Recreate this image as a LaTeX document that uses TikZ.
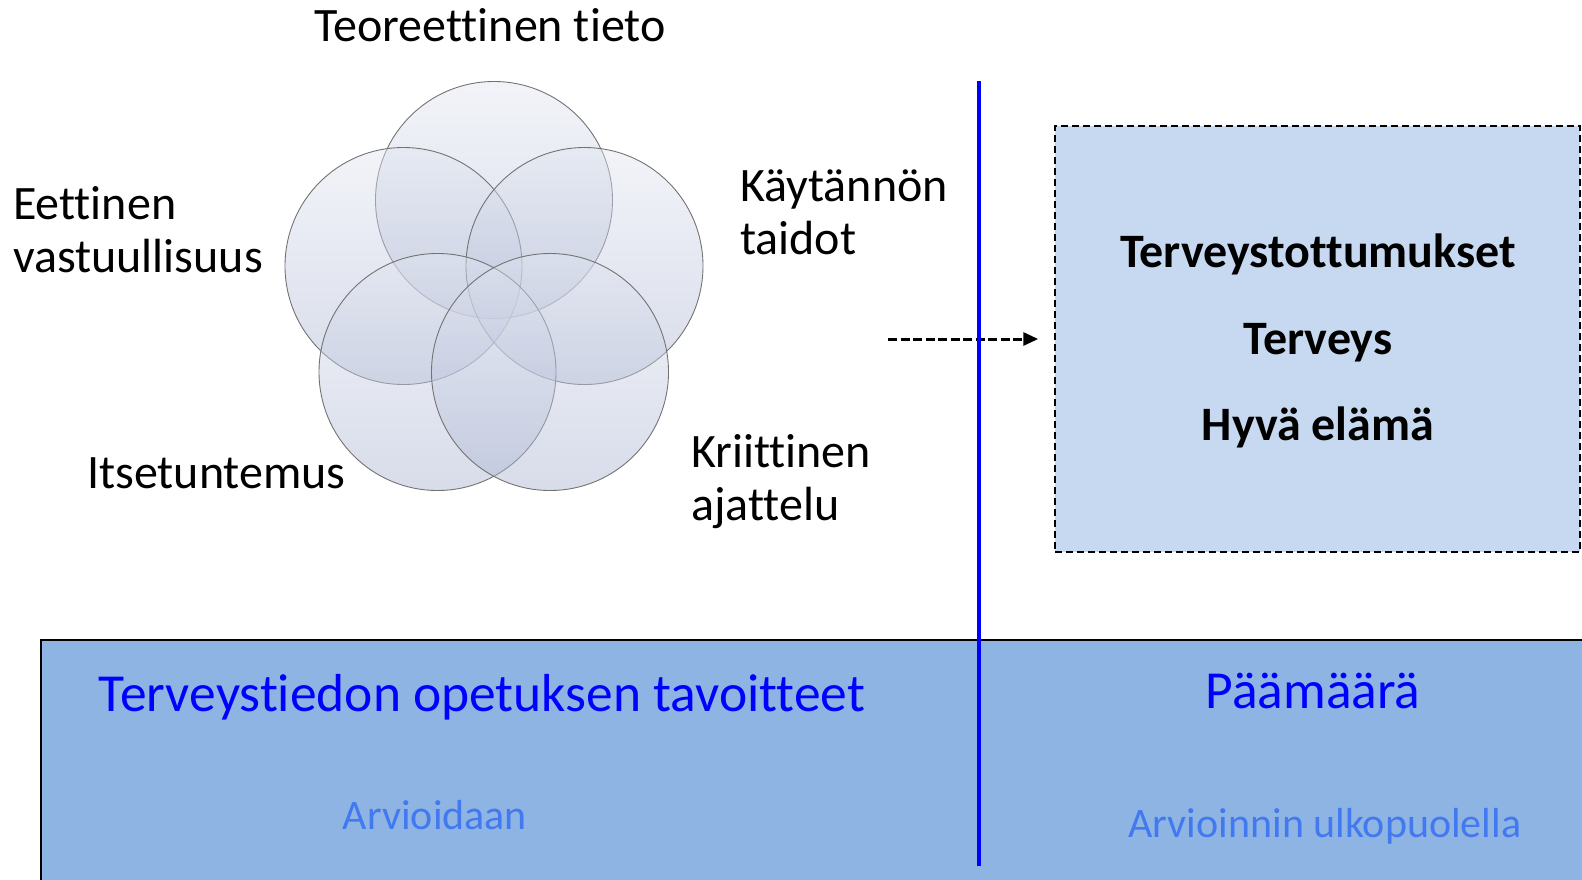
\documentclass[tikz,border=0pt]{standalone}
\usepackage{fontspec}
\setmainfont[Ligatures={NoCommon,NoContextual}]{Carlito}
\usepackage{tikz}
\usetikzlibrary{arrows.meta,positioning}
\usepackage{xcolor}
\definecolor{ringtop}{RGB}{226,230,241}
\definecolor{ringbottom}{RGB}{168,178,208}
\definecolor{ringedge}{RGB}{115,115,115}
\definecolor{goalblue}{RGB}{198,217,240}
\definecolor{baseblue}{RGB}{142,180,227}
\definecolor{headblue}{RGB}{0,0,255}
\definecolor{noteblue}{RGB}{66,121,241}
\tikzstyle{ring} = [circle, minimum size=237pt, inner sep=0pt, draw=ringedge, line width=0.9pt, top color=ringtop, bottom color=ringbottom, fill opacity=0.45]
\tikzstyle{lbl} = [inner sep=0pt, align=left, font=\fontsize{48}{52.5}\selectfont]
\tikzstyle{goaltext} = [inner sep=0pt, font=\fontsize{48}{52.5}\selectfont\bfseries]
\tikzstyle{headtext} = [inner sep=0pt, text=headblue, font=\fontsize{53.5}{60}\selectfont]
\tikzstyle{notetext} = [inner sep=0pt, text=noteblue, font=\fontsize{42}{48}\selectfont]
\tikzstyle{flow} = [line width=3pt, dash pattern=on 9pt off 3.5pt, -{Triangle[length=15pt,width=13pt]}, shorten >=16pt]
\tikzstyle{splitline} = [line width=3.2pt, color=headblue]

\begin{document}
\begin{tikzpicture}[x=1pt, y=-1pt]
\useasboundingbox (0,0) rectangle (1582,879);
% Boxes
\node (basebox) [draw=black, line width=2pt, fill=baseblue, minimum width=1543pt, minimum height=245pt, inner sep=0pt] at (812.5,762.5) {};
\node (goalbox) [draw=black, line width=1.5pt, dash pattern=on 7pt off 4pt, fill=goalblue, minimum width=525pt, minimum height=426pt, inner sep=0pt] at (1317.5,339) {};

% Five rings
\node (tieto) [ring] at (494,200) {};
\node (vastuu) [ring] at (403.5,266) {};
\node (taidot) [ring] at (584.5,266) {};
\node (itse) [ring] at (437.5,372) {};
\node (kriitti) [ring] at (550,372) {};

% Ring labels
\node (tietoLbl) [lbl, anchor=base] at (490,41) {Teoreettinen tieto};
\node (vastuuLbl) [lbl, anchor=base west] at (13,272) {Eettinen\\vastuullisuus};
\node (taidotLbl) [lbl, anchor=base west] at (740,254) {Käytännön\\taidot};
\node (itseLbl) [lbl, anchor=base west] at (87,488) {Itsetuntemus};
\node (kriittiLbl) [lbl, anchor=base west] at (691,520) {Kriittinen\\ajattelu};

% Goal texts
\node (tottumus) [goaltext, anchor=base] at (1318,267) {Terveystottumukset};
\node (terveys) [goaltext, anchor=base] at (1318,354) {Terveys};
\node (elama) [goaltext, anchor=base] at (1318,440) {Hyvä elämä};

% Arrow and split line
\coordinate (flowStart) at (888,339);
\draw[flow] (flowStart) -- (goalbox);
\coordinate (splitTop) at (979,81);
\coordinate (splitBot) at (979,866);
\draw[splitline] (splitTop) -- (splitBot);

% Bottom texts
\node (tavoite) [headtext, anchor=base] at (482,711) {Terveystiedon opetuksen tavoitteet};
\node (paamaara) [headtext, anchor=base] at (1313,708) {Päämäärä};
\node (arvio) [notetext, anchor=base] at (435,829) {Arvioidaan};
\node (ulko) [notetext, anchor=base] at (1325,837) {Arvioinnin ulkopuolella};
\end{tikzpicture}
\end{document}
